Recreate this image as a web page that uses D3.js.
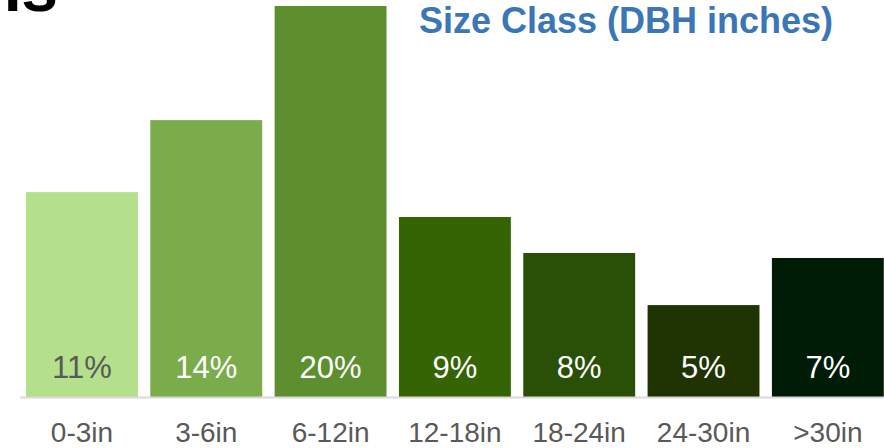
<!DOCTYPE html>
<html>
<head>
<meta charset="utf-8">
<script src="https://cdn.jsdelivr.net/npm/d3@7"></script>
<style>
  html, body { margin: 0; padding: 0; background: #fff; }
  svg { display: block; }
</style>
</head>
<body>
<svg id="chart" width="884" height="448"></svg>
<script>
// Data
const categories = ["0-3in", "3-6in", "6-12in", "12-18in", "18-24in", "24-30in", ">30in"];
const values = [10.7, 14.46, 20.42, 9.4, 7.52, 4.8, 7.26]; // percent of trees
const barColors = ["#b4e08b", "#7aac4b", "#5d8f2f", "#346404", "#2a4f06", "#1f3303", "#001b06"];
const labelColors = ["#595959", "#ffffff", "#ffffff", "#ffffff", "#ffffff", "#ffffff", "#ffffff"];
const chartTitle = "Size Class (DBH inches)";
const pageTitleFragment = "ns";

const svg = d3.select("#chart");
const baseY = 397, topY = 6;

const x = d3.scaleBand()
  .domain(categories)
  .range([19.8, 890])
  .paddingInner(0.1)
  .paddingOuter(0.05);

const y = d3.scaleLinear()
  .domain([0, d3.max(values)])
  .range([baseY, topY]);

// cut-off page title at top-left (only its lower edge is visible, as in the reference)
svg.append("text")
  .attr("x", 58)
  .attr("y", 11)
  .attr("text-anchor", "end")
  .attr("font-family", "Liberation Sans, Arial, sans-serif")
  .attr("font-weight", "bold")
  .attr("font-size", 66)
  .attr("fill", "#000")
  .text(pageTitleFragment);

// bars
svg.append("g").selectAll("rect")
  .data(values)
  .join("rect")
  .attr("x", (d, i) => x(categories[i]))
  .attr("y", d => y(d))
  .attr("width", x.bandwidth())
  .attr("height", d => baseY - y(d))
  .attr("fill", (d, i) => barColors[i]);

// axis
const axis = d3.axisBottom(x).tickSizeInner(0).tickSizeOuter(0).tickPadding(25);
const gAxis = svg.append("g")
  .attr("transform", `translate(0,${baseY})`)
  .call(axis);
gAxis.select(".domain").attr("stroke", "#d9d9d9").attr("stroke-width", 2);
gAxis.selectAll(".tick text")
  .attr("font-family", "Liberation Sans, Arial, sans-serif")
  .attr("font-size", 28)
  .attr("fill", "#595959");

// value labels
svg.append("g").selectAll("text")
  .data(values)
  .join("text")
  .attr("x", (d, i) => x(categories[i]) + x.bandwidth() / 2)
  .attr("y", 378)
  .attr("text-anchor", "middle")
  .attr("font-family", "Liberation Sans, Arial, sans-serif")
  .attr("font-size", 31)
  .attr("fill", (d, i) => labelColors[i])
  .text(d => Math.round(d) + "%");

// chart title
svg.append("text")
  .attr("x", 833)
  .attr("y", 33)
  .attr("text-anchor", "end")
  .attr("font-family", "Liberation Sans, Arial, sans-serif")
  .attr("font-weight", "bold")
  .attr("font-size", 36)
  .attr("fill", "#3b76b6")
  .text(chartTitle);
</script>
</body>
</html>
